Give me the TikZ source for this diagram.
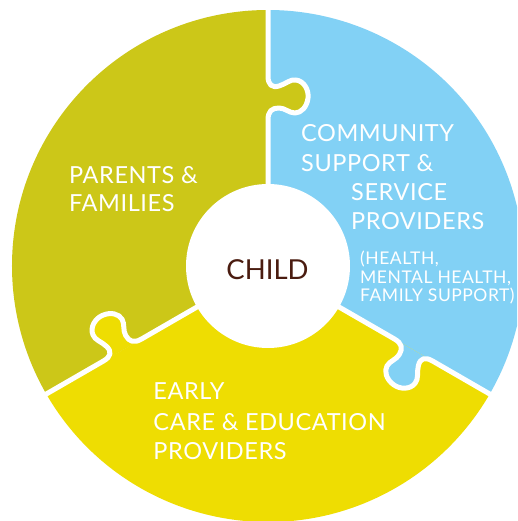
\documentclass[tikz,border=0pt]{standalone}
\usepackage{fontspec}
\setmainfont{Lato}
\newfontfamily\bigfont[LetterSpace=2.5]{Lato}
\newfontfamily\smallfont[LetterSpace=3]{Lato}
\definecolor{colive}{RGB}{204,199,24}
\definecolor{cyellow}{RGB}{238,221,2}
\definecolor{cblue}{RGB}{130,209,245}
\definecolor{cbrown}{RGB}{74,28,16}
\tikzset{
  big/.style={text=white, font=\bigfont\fontsize{23.5}{28}\selectfont, inner sep=0pt, anchor=base west},
  small/.style={text=white, font=\smallfont\fontsize{17.5}{18}\selectfont, inner sep=0pt, anchor=base west},
  sep/.style={white, line width=5pt, line cap=round, line join=round},
}
\begin{document}
\begin{tikzpicture}[x=1pt,y=1pt]
\useasboundingbox (-268,-255) rectangle (249,266);
\clip (-268,-255) rectangle (249,266);
\fill[white] (-268,-255) rectangle (249,266);
% sectors
\fill[cblue] (0,0) -- (-30:256) arc[start angle=-30,end angle=90,radius=256] -- cycle;
\fill[colive] (0,0) -- (90:256) arc[start angle=90,end angle=210,radius=256] -- cycle;
\fill[cyellow] (0,0) -- (210:256) arc[start angle=210,end angle=330,radius=256] -- cycle;
% puzzle knobs and separators
\foreach \rot/\col in {0/colive,-120/cblue,120/cyellow}{
  \begin{scope}[rotate=\rot]
    \fill[\col] (0,190) .. controls (0,181) and (4,178) .. (11,180)
      .. controls (18,182) and (22,187) .. (28,186)
      .. controls (36,185) and (41,176) .. (40,168)
      .. controls (39,159) and (33,153) .. (27,153)
      .. controls (21,153) and (17,158) .. (11,158)
      .. controls (4,158) and (0,155) .. (0,146) -- cycle;
    \draw[sep] (0,264) -- (0,190) .. controls (0,181) and (4,178) .. (11,180)
      .. controls (18,182) and (22,187) .. (28,186)
      .. controls (36,185) and (41,176) .. (40,168)
      .. controls (39,159) and (33,153) .. (27,153)
      .. controls (21,153) and (17,158) .. (11,158)
      .. controls (4,158) and (0,155) .. (0,146) -- (0,70);
  \end{scope}
}
% centre
\fill[white] (0,0) circle (82);
\node[text=cbrown, font=\fontsize{27.5}{32}\selectfont, inner sep=0pt, anchor=base] (child) at (-0.5,-13.3) {CHILD};
% texts
\node[big] (pf1) at (-199,82.7) {PARENTS \&};
\node[big] (pf2) at (-199,54.5) {FAMILIES};
\node[big] (cs1) at (33,124.3) {COMMUNITY};
\node[big] (cs2) at (33,94.3) {SUPPORT \&};
\node[big] (cs3) at (83,65) {SERVICE};
\node[big] (cs4) at (83,36) {PROVIDERS};
\node[small] (hs1) at (92,1) {(HEALTH,};
\node[small] (hs2) at (92,-17.3) {MENTAL HEALTH,};
\node[small] (hs3) at (92,-35.7) {FAMILY SUPPORT)};
\node[big] (ec1) at (-114.7,-133.3) {EARLY};
\node[big] (ec2) at (-114.7,-164) {CARE \& EDUCATION};
\node[big] (ec3) at (-114.7,-193.3) {PROVIDERS};
\end{tikzpicture}
\end{document}
